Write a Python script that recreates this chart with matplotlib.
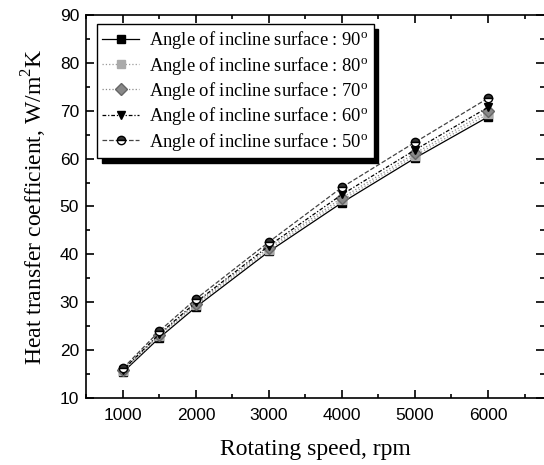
import matplotlib.pyplot as plt
from matplotlib.ticker import MultipleLocator

speed = [1000, 1500, 2000, 3000, 4000, 5000, 6000]
h_90 = [15.4, 22.6, 29.0, 40.6, 50.8, 60.1, 68.7]
h_80 = [15.6, 22.9, 29.4, 41.0, 51.3, 60.6, 69.3]
h_70 = [15.8, 23.2, 29.7, 41.4, 51.8, 61.1, 69.9]
h_60 = [15.9, 23.4, 30.0, 41.8, 52.5, 61.8, 70.7]
h_50 = [16.2, 24.0, 30.7, 42.6, 54.0, 63.4, 72.6]
labels = ['90', '80', '70', '60', '50']

plt.rcParams['font.family'] = 'Liberation Serif'

fig = plt.figure(figsize=(5.44, 4.65), dpi=100)
# right spine sits on the image edge, as in the cropped original
ax = fig.add_axes([0.158, 0.144, 0.842, 0.824])

styles = [
    dict(color='black', ls='-', marker='s', mfc='black', mec='black'),
    dict(color='#999999', ls=':', marker='s', mfc='#aaaaaa', mec='#aaaaaa'),
    dict(color='#888888', ls=':', marker='D', mfc='#888888', mec='#666666'),
    dict(color='black', ls=(0, (3, 1.5, 1, 1.5)), marker='v', mfc='black', mec='black'),
    dict(color='#444444', ls='--', marker='o', mfc='#333333', mec='black', fillstyle='top',
         markerfacecoloralt='white'),
]
series = [h_90, h_80, h_70, h_60, h_50]
for vals, lab, st in zip(series, labels, styles):
    ax.plot(speed, vals, lw=0.9, ms=6,
            label='Angle of incline surface : ' + lab + r'$^{\mathregular{o}}$', **st)

ax.set_xlim(493, 6767)
ax.set_ylim(10, 90)
ax.xaxis.set_major_locator(MultipleLocator(1000))
ax.xaxis.set_minor_locator(MultipleLocator(500))
ax.yaxis.set_major_locator(MultipleLocator(10))
ax.yaxis.set_minor_locator(MultipleLocator(5))
ax.tick_params(which='both', direction='in', top=True, right=True, width=1.2)
ax.tick_params(which='major', length=6)
ax.tick_params(which='minor', length=3)
ax.tick_params(axis='x', pad=7)
ax.tick_params(axis='y', pad=5)
for t in ax.get_xticklabels() + ax.get_yticklabels():
    t.set_family('Liberation Sans')
    t.set_fontsize(12.5)
for s in ax.spines.values():
    s.set_linewidth(1.2)
ax.spines['right'].set_visible(False)

ax.set_xlabel('Rotating speed, rpm', fontsize=17, labelpad=12)
ax.set_ylabel(r'Heat transfer coefficient, W/m$^{\mathregular{2}}$K', fontsize=17,
              labelpad=8)

leg = ax.legend(loc='upper left', bbox_to_anchor=(0.024, 0.977), borderaxespad=0,
                fontsize=13.3, frameon=True, fancybox=False,
                shadow={'ox': 3.5, 'oy': -3.5, 'color': 'black', 'alpha': 1},
                handlelength=2.0, handletextpad=0.5,
                borderpad=0.3, labelspacing=0.18)
leg.get_frame().set_edgecolor('black')
leg.get_frame().set_linewidth(1.0)
leg.get_frame().set_alpha(1)

fig.savefig('out.png', dpi=100)
